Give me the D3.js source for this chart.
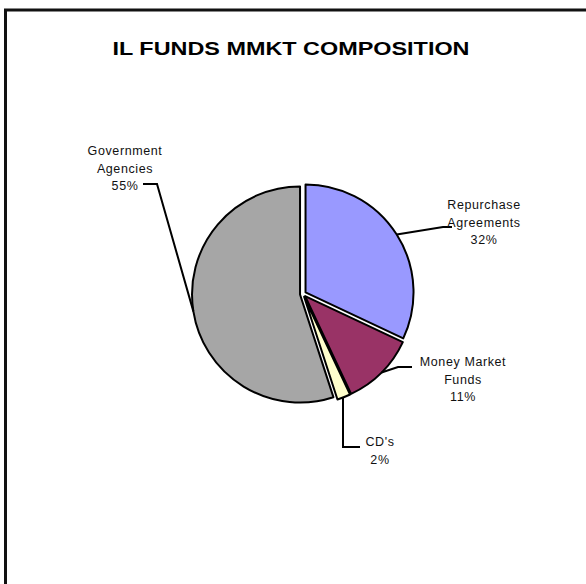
<!DOCTYPE html>
<html>
<head>
<meta charset="utf-8">
<script src="https://cdn.jsdelivr.net/npm/d3@7"></script>
<style>
  body { margin: 0; background: #fff; }
  svg text { font-family: Arial, "Liberation Sans", sans-serif; }
</style>
</head>
<body>
<svg id="chart" width="586" height="584"></svg>
<script>
// data
var categories = ["Repurchase Agreements", "Money Market Funds", "CD's", "Government Agencies"];
var values = [32, 11, 2, 55];
var labelLines = [["Repurchase", "Agreements", "32%"], ["Money Market", "Funds", "11%"], ["CD's", "2%"], ["Government", "Agencies", "55%"]];
var colors = ["#9999ff", "#993366", "#ffffcc", "#a6a6a6"];

var svg = d3.select("#chart");
var cx = 303, cy = 294, radius = 108, explode = 3;

// border (top + left only)
svg.append("line").attr("x1", 4).attr("y1", 10).attr("x2", 586).attr("y2", 10)
    .attr("stroke", "#111").attr("stroke-width", 3);
svg.append("line").attr("x1", 5.5).attr("y1", 9).attr("x2", 5.5).attr("y2", 584)
    .attr("stroke", "#111").attr("stroke-width", 3);

svg.append("text")
    .attr("x", 291).attr("y", 55)
    .attr("text-anchor", "middle")
    .attr("font-size", 19).attr("font-weight", "bold")
    .attr("textLength", 357).attr("lengthAdjust", "spacingAndGlyphs")
    .text("IL FUNDS MMKT COMPOSITION");

var data = categories.map(function (c, i) { return { name: c, value: values[i], lines: labelLines[i], color: colors[i] }; });

var pie = d3.pie().sort(null).value(function (d) { return d.value; });
var arc = d3.arc().innerRadius(0).outerRadius(radius);
var arcs = pie(data);

var g = svg.append("g").attr("transform", "translate(" + cx + "," + cy + ")");

g.selectAll("path.slice")
    .data(arcs)
    .enter().append("path")
    .attr("class", "slice")
    .attr("transform", function (d) {
        var a = (d.startAngle + d.endAngle) / 2;
        return "translate(" + (explode * Math.sin(a)) + "," + (-explode * Math.cos(a)) + ")";
    })
    .attr("d", arc)
    .attr("fill", function (d) { return d.data.color; })
    .attr("stroke", "#000")
    .attr("stroke-width", 2)
    .attr("stroke-linejoin", "round");

// label positions (text centre x, first line y) and leader elbows
var labelPos = [
    { x: 484, y: 209, elbow: [[443, 227], [452, 227]] },
    { x: 463, y: 366, elbow: [[398, 367], [412, 367]] },
    { x: 380, y: 446, elbow: [[343, 447], [360, 447]] },
    { x: 125, y: 155, elbow: [[157, 184], [143, 184]] }
];
var lineH = 17.5;

arcs.forEach(function (d, i) {
    var a = (d.startAngle + d.endAngle) / 2;
    var r = radius + explode;
    var p0 = [cx + r * Math.sin(a), cy - r * Math.cos(a)];
    if (i === 2) p0 = [343, p0[1]];
    var pts = [p0].concat(labelPos[i].elbow);
    svg.append("path")
        .attr("d", d3.line()(pts))
        .attr("fill", "none")
        .attr("stroke", "#000")
        .attr("stroke-width", 2);

    var t = svg.append("text")
        .attr("text-anchor", "middle")
        .attr("font-size", 12.5)
        .attr("letter-spacing", 0.6)
        .attr("fill", "#111");
    d.data.lines.forEach(function (s, k) {
        t.append("tspan")
            .attr("x", labelPos[i].x)
            .attr("y", labelPos[i].y + k * lineH)
            .text(s);
    });
});
</script>
</body>
</html>
